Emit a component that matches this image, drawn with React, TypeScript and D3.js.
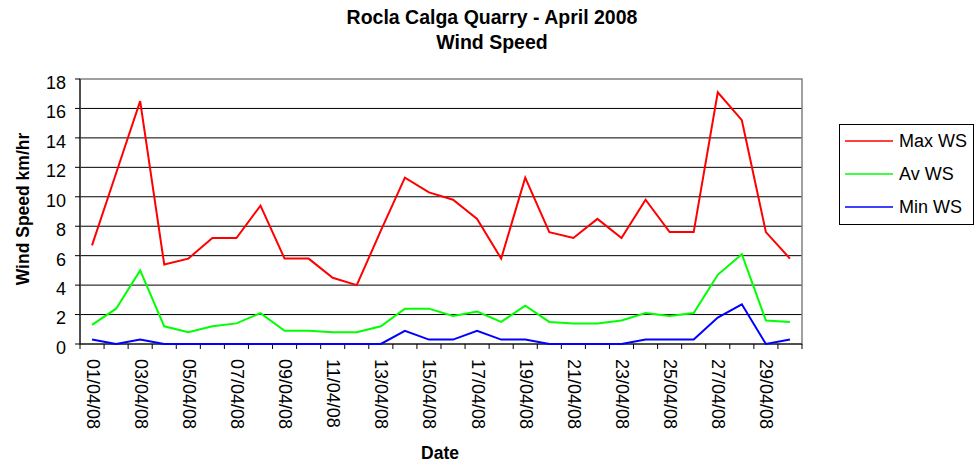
import React from "react";
import * as d3 from "d3";

const dates = Array.from({ length: 30 }, (_, i) => `${String(i + 1).padStart(2, "0")}/04/08`);
const maxWS = [6.7, 11.6, 16.5, 5.4, 5.8, 7.2, 7.2, 9.4, 5.8, 5.8, 4.5, 4.0, 7.7, 11.3, 10.3, 9.8, 8.5, 5.8, 11.3, 7.6, 7.2, 8.5, 7.2, 9.8, 7.6, 7.6, 17.1, 15.2, 7.6, 5.8];
const avWS = [1.3, 2.4, 5.0, 1.2, 0.8, 1.2, 1.4, 2.1, 0.9, 0.9, 0.8, 0.8, 1.2, 2.4, 2.4, 1.9, 2.2, 1.5, 2.6, 1.5, 1.4, 1.4, 1.6, 2.1, 1.9, 2.1, 4.7, 6.1, 1.6, 1.5];
const minWS = [0.3, 0, 0.3, 0, 0, 0, 0, 0, 0, 0, 0, 0, 0, 0.9, 0.3, 0.3, 0.9, 0.3, 0.3, 0, 0, 0, 0, 0.3, 0.3, 0.3, 1.8, 2.7, 0, 0.3];
const yTicks = [0, 2, 4, 6, 8, 10, 12, 14, 16, 18];
const seriesNames = ["Max WS", "Av WS", "Min WS"];
const seriesColors = ["#ff0000", "#00ff00", "#0000ff"];

const W = 974, H = 465;
const L = 80, R = 802, T = 79, B = 344;
const font = "'Liberation Sans', Arial, sans-serif";

export default function App() {
  const x = d3.scaleBand<string>().domain(dates).range([L, R]);
  const y = d3.scaleLinear().domain([0, 18]).range([B, T]);
  const line = d3.line<number>().x((_, i) => x(dates[i])! + x.bandwidth() / 2).y((d) => y(d));
  const series = [maxWS, avWS, minWS];
  return (
    <svg width={W} height={H} style={{ position: "absolute", left: 0, top: 0, background: "#fff" }}>
      <text x={492} y={24} textAnchor="middle" fontFamily={font} fontWeight="bold" fontSize={19.5}>Rocla Calga Quarry - April 2008</text>
      <text x={492} y={49} textAnchor="middle" fontFamily={font} fontWeight="bold" fontSize={19.5}>Wind Speed</text>
      {/* gridlines */}
      {yTicks.slice(1, -1).map((t) => (
        <line key={t} x1={L} x2={R} y1={y(t)} y2={y(t)} stroke="#000" strokeWidth={1} />
      ))}
      <rect x={L} y={T} width={R - L} height={B - T} fill="none" stroke="#808080" strokeWidth={1.5} />
      {/* axes */}
      <line x1={L} x2={L} y1={T} y2={B} stroke="#000" strokeWidth={1} />
      <line x1={L} x2={R} y1={B} y2={B} stroke="#000" strokeWidth={1} />
      {yTicks.map((t) => (
        <g key={t}>
          <line x1={L - 5} x2={L} y1={y(t)} y2={y(t)} stroke="#000" />
          <text x={L - 14} y={y(t)} dy="0.55em" textAnchor="end" fontFamily={font} fontSize={18}>{t}</text>
        </g>
      ))}
      {dates.map((d, i) => (
        <line key={"t" + i} x1={x(d)!} x2={x(d)!} y1={B} y2={B + 5} stroke="#000" />
      ))}
      <line x1={R} x2={R} y1={B} y2={B + 5} stroke="#000" />
      {dates.map((d, i) =>
        i % 2 === 0 ? (
          <text key={"l" + i} transform={`translate(${x(d)! + x.bandwidth() / 2},${B + 15}) rotate(90)`} dy="5.5" textAnchor="start" fontFamily={font} fontSize={18}>{d}</text>
        ) : null
      )}
      {series.map((s, k) => (
        <path key={k} d={line(s)!} fill="none" stroke={seriesColors[k]} strokeWidth={2} />
      ))}
      <text transform={`translate(29,209) rotate(-90)`} textAnchor="middle" fontFamily={font} fontWeight="bold" fontSize={17.5}>Wind Speed km/hr</text>
      <text x={440} y={459} textAnchor="middle" fontFamily={font} fontWeight="bold" fontSize={17.5}>Date</text>
      {/* legend */}
      <rect x={839.5} y={124.5} width={134} height={100} fill="#fff" stroke="#000" strokeWidth={1} />
      {seriesNames.map((n, k) => (
        <g key={n}>
          <line x1={845} x2={893} y1={141 + k * 33} y2={141 + k * 33} stroke={seriesColors[k]} strokeWidth={1.5} />
          <text x={899} y={141 + k * 33} dy="0.36em" fontFamily={font} fontSize={18}>{n}</text>
        </g>
      ))}
    </svg>
  );
}
